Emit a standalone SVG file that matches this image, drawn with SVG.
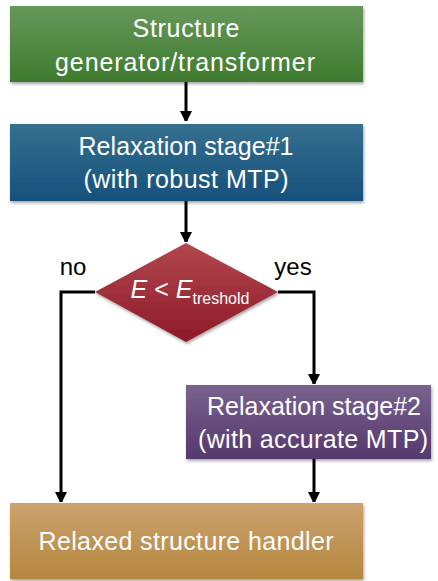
<svg xmlns="http://www.w3.org/2000/svg" width="438" height="581" viewBox="0 0 438 581">
<style>
.lbl{font-family:"Liberation Sans","Open Sans",sans-serif;font-size:25px;fill:#ffffff;text-anchor:middle}
.side{font-family:"Liberation Sans","Open Sans",sans-serif;font-size:24px;fill:#000000;text-anchor:middle}
.con{fill:none;stroke:#000;stroke-width:3}
</style>
<defs>
<linearGradient id="gG" x1="0" y1="0" x2="0" y2="1"><stop offset="0" stop-color="#67985a"/><stop offset="1" stop-color="#3e7b2e"/></linearGradient>
<linearGradient id="gB" x1="0" y1="0" x2="0" y2="1"><stop offset="0" stop-color="#35708f"/><stop offset="1" stop-color="#16507c"/></linearGradient>
<linearGradient id="gR" x1="0" y1="0" x2="0" y2="1"><stop offset="0" stop-color="#b2474f"/><stop offset="1" stop-color="#8c1a27"/></linearGradient>
<linearGradient id="gP" x1="0" y1="0" x2="0" y2="1"><stop offset="0" stop-color="#7a628e"/><stop offset="1" stop-color="#55386d"/></linearGradient>
<linearGradient id="gO" x1="0" y1="0" x2="0" y2="1"><stop offset="0" stop-color="#cca26f"/><stop offset="1" stop-color="#b5873f"/></linearGradient>
<filter id="sh" x="-5%" y="-5%" width="110%" height="120%"><feDropShadow dx="1" dy="2" stdDeviation="1.5" flood-color="#000" flood-opacity="0.35"/></filter>
<marker id="ah" markerWidth="10" markerHeight="14" refX="10" refY="6" orient="auto" markerUnits="userSpaceOnUse"><path d="M0,0 L12,6 L0,12 Z" fill="#000"/></marker>
</defs>
<g id="connectors">
<path class="con" d="M186,82 L186,121" marker-end="url(#ah)"/>
<path class="con" d="M186,201 L186,242" marker-end="url(#ah)"/>
<path class="con" d="M95,292 L61,292 L61,502" marker-end="url(#ah)"/>
<path class="con" d="M278,292 L314,292 L314,384" marker-end="url(#ah)"/>
<path class="con" d="M314,459 L314,502" marker-end="url(#ah)"/>
</g>
<g id="generator">
<rect x="10" y="6" width="353" height="76" fill="url(#gG)" filter="url(#sh)"/>
<text class="lbl" x="186" y="37" textLength="107">Structure</text>
<text class="lbl" x="185" y="71" textLength="260">generator/transformer</text>
</g>
<g id="relax1">
<rect x="10" y="124" width="353" height="77" fill="url(#gB)" filter="url(#sh)"/>
<text class="lbl" x="186" y="155" textLength="215">Relaxation stage#1</text>
<text class="lbl" x="186" y="188" textLength="205">(with robust MTP)</text>
</g>
<g id="decision">
<polygon points="186,243 278,292 186,342 95,292" fill="url(#gR)" filter="url(#sh)"/>
<text class="lbl" x="190" y="298" font-size="24"><tspan font-style="italic">E</tspan> &lt; <tspan font-style="italic">E</tspan><tspan font-size="16" dy="6">treshold</tspan></text>
</g>
<g id="labels">
<text class="side" x="73" y="275">no</text>
<text class="side" x="293" y="275">yes</text>
</g>
<g id="relax2">
<rect x="186" y="385" width="245" height="74" fill="url(#gP)" filter="url(#sh)"/>
<text class="lbl" x="314" y="415" textLength="214">Relaxation stage#2</text>
<text class="lbl" x="313" y="448" textLength="230">(with accurate MTP)</text>
</g>
<g id="handler">
<rect x="10" y="503" width="353" height="76" fill="url(#gO)" filter="url(#sh)"/>
<text class="lbl" x="186" y="550" textLength="295">Relaxed structure handler</text>
</g>
</svg>
